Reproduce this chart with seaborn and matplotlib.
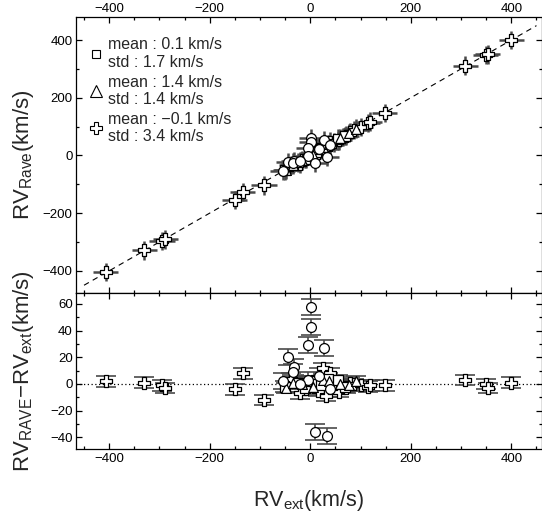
import numpy as np
import pandas as pd
import matplotlib
matplotlib.use('Agg')
import matplotlib.pyplot as plt
from matplotlib.ticker import MultipleLocator
from matplotlib.lines import Line2D
import seaborn as sns

# RV_ext (km/s) and RV_RAVE - RV_ext (km/s) for each sample
cross_ext = [-407, -330, -295, -288, -150, -134, -92, -38, -21, -8, 5, 15, 25, 32,
             40, 48, 58, 65, 72, 80, 88, 100, 114, 118, 148, 308, 349, 353, 400]
cross_diff = [2, 1, -1, -3, -4, 8, -12, 4, -7, -4, 2, -5, 12, -9,
              8, -3, -6, -2, -3, 1, 0, -1, -2, -1, -1, 3, 0, -3, 1]

square_ext = [-50, -25, -10, 2, 12, 22, 35, 55, 70]
square_diff = [-2, 1, -3, 2, 0, -1, 4, 3, -2]

triangle_ext = [-48, -35, -17, 5, 25, 38, 60, 78, 91]
triangle_diff = [-3, 1, 0, -2, 3, 2, 0, -1, 2]

circle_ext = [2, 2, -4, 27, -44, -33, -34, -55, -5, 10, 33, -20, 18, 40]
circle_diff = [58, 43, 29, 27, 20, 13, 9, 2, 3, -36, -39, 0, 6, -4]

# error bars (km/s)
err_ext = 25
err_rave = 32
err_diff = [4, 4, 4, 6]

legend_labels = ['mean : 0.1 km/s\nstd : 1.7 km/s',
                 'mean : 1.4 km/s\nstd : 1.4 km/s',
                 'mean : \u22120.1 km/s\nstd : 3.4 km/s']

frames = []
for name, xs, ds in [('cross', cross_ext, cross_diff), ('square', square_ext, square_diff),
                     ('triangle', triangle_ext, triangle_diff), ('circle', circle_ext, circle_diff)]:
    frames.append(pd.DataFrame({'group': name, 'rv_ext': xs, 'drv': ds}))
df = pd.concat(frames, ignore_index=True)
df['rv_rave'] = df['rv_ext'] + df['drv']

sns.set_theme(style='ticks')
plt.rcParams['font.family'] = ['Liberation Sans', 'DejaVu Sans']
plt.rcParams['mathtext.default'] = 'regular'

fig = plt.figure(figsize=(5.42, 5.21), dpi=100)
ax1 = fig.add_axes([0.1402, 0.4370, 0.8598, 0.5310])
ax2 = fig.add_axes([0.1402, 0.1376, 0.8598, 0.2994])

markers = {'cross': ('P', 80), 'square': ('s', 45), 'triangle': ('^', 50), 'circle': ('o', 50)}
ecol = '#4a4a4a'

# top panel: 1:1 comparison
ax1.plot([-450, 450], [-450, 450], color='black', lw=0.8, dashes=(5, 4), zorder=1)
for i, (g, (m, s)) in enumerate(markers.items()):
    sub = df[df['group'] == g]
    ax1.errorbar(sub['rv_ext'], sub['rv_rave'], xerr=err_ext, yerr=err_rave, fmt='none',
                 ecolor=ecol, elinewidth=1.8, capsize=0, zorder=2)
    sns.scatterplot(x=sub['rv_ext'], y=sub['rv_rave'], marker=m, s=s, color='white',
                    edgecolor='black', linewidth=0.9, ax=ax1, zorder=3)

# bottom panel: residuals
ax2.axhline(0, color='black', lw=0.9, ls=(0, (1, 2)), zorder=1)
for i, (g, (m, s)) in enumerate(markers.items()):
    sub = df[df['group'] == g]
    ax2.errorbar(sub['rv_ext'], sub['drv'], yerr=err_diff[i], fmt='none',
                 ecolor=ecol, elinewidth=1.2, capsize=7, capthick=1.2, zorder=2)
    sns.scatterplot(x=sub['rv_ext'], y=sub['drv'], marker=m, s=s, color='white',
                    edgecolor='black', linewidth=0.9, ax=ax2, zorder=3)

handles = [Line2D([], [], ls='none', marker='s', ms=5.5, mfc='white', mec='black', mew=0.8),
           Line2D([], [], ls='none', marker='^', ms=8.5, mfc='white', mec='black', mew=0.8),
           Line2D([], [], ls='none', marker='P', ms=8.5, mfc='white', mec='black', mew=0.8)]
ax1.legend(handles, legend_labels, loc='upper left', bbox_to_anchor=(0.03, 0.925),
           frameon=False, fontsize=11.5, handlelength=0.8, handletextpad=0.3,
           labelspacing=0.3, borderpad=0, borderaxespad=0)

ax1.set_xlim(-466, 461)
ax2.set_xlim(-466, 461)
ax1.set_ylim(-478, 481)
ax2.set_ylim(-49, 68)

for ax in (ax1, ax2):
    ax.xaxis.set_major_locator(MultipleLocator(200))
    ax.xaxis.set_minor_locator(MultipleLocator(50))
    ax.tick_params(which='both', direction='in', top=True, right=True, labelsize=9.5,
                   width=0.9, colors='black')
    ax.tick_params(which='major', length=4.5)
    ax.tick_params(which='minor', length=2.2)
    for sp in ax.spines.values():
        sp.set_linewidth(0.9)
        sp.set_color('black')
    ax.set_xlabel('')
    ax.set_ylabel('')

ax1.yaxis.set_major_locator(MultipleLocator(200))
ax1.yaxis.set_minor_locator(MultipleLocator(100))
ax2.yaxis.set_major_locator(MultipleLocator(20))
ax2.yaxis.set_minor_locator(MultipleLocator(10))

ax1.tick_params(axis='x', labeltop=True, labelbottom=False, pad=1.5)
ax2.tick_params(axis='x', pad=2.5)
ax1.tick_params(axis='y', pad=2.4)
ax2.tick_params(axis='y', pad=2.4)

ax1.set_ylabel('RV$_{Rave}$(km/s)', fontsize=16)
ax2.set_ylabel('RV$_{RAVE}$\u2212RV$_{ext}$(km/s)', fontsize=16)
ax2.set_xlabel('RV$_{ext}$(km/s)', fontsize=15.5)
ax1.yaxis.set_label_coords(-0.085, 0.5)
ax2.yaxis.set_label_coords(-0.085, 0.5)
ax2.xaxis.set_label_coords(0.5, -0.25)

fig.savefig('out.png', dpi=100)
